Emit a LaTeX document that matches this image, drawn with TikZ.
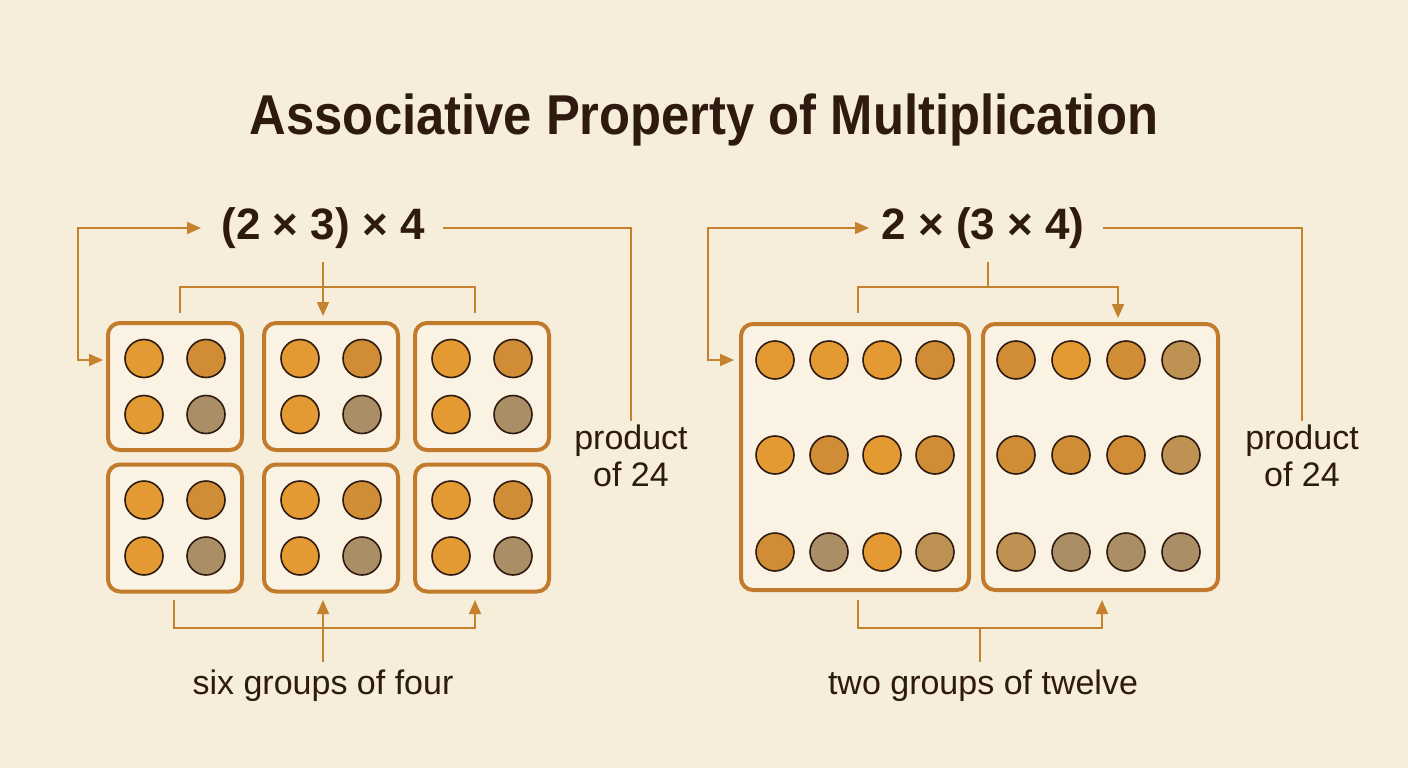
\documentclass[tikz,border=0pt]{standalone}
\usepackage{fontspec}
\setmainfont{Liberation Sans}
\usetikzlibrary{arrows.meta}

\definecolor{paper}{HTML}{F6EEDA}
\definecolor{boxfill}{HTML}{FAF3E3}
\definecolor{rim}{HTML}{C27B2C}
\definecolor{wire}{HTML}{C4822F}
\definecolor{ink}{HTML}{2E1A0E}
\definecolor{dotA}{HTML}{E39A33}
\definecolor{dotB}{HTML}{D08D36}
\definecolor{dotC}{HTML}{BE9252}
\definecolor{dotD}{HTML}{A98E66}

\tikzset{
	group/.style={draw=rim, line width=4pt, rounded corners=12pt, fill=boxfill},
	bead/.style={circle, draw=ink, line width=1.6pt, minimum size=38pt, inner sep=0pt, fill=#1},
	wire/.style={draw=wire, line width=1.8pt},
	tip/.style={wire, -{Triangle[length=14pt,width=12pt]}},
	tips/.style={wire, {Triangle[length=14pt,width=12pt]}-{Triangle[length=14pt,width=12pt]}},
	expr/.style={text=ink, font=\fontsize{44}{48}\selectfont\bfseries},
	caption/.style={text=ink, align=center, font=\fontsize{34}{37}\selectfont},
}

\begin{document}
\begin{tikzpicture}[x=1pt, y=-1pt]
	\fill[paper] (0,0) rectangle (1408,768);
	\useasboundingbox (0,0) rectangle (1408,768);

	\node[text=ink] (title) at (704,120) {\fontsize{54}{60}\selectfont\bfseries\scalebox{0.94}[1.04]{Associative Property of Multiplication}};

	% left: (2 x 3) x 4
	\node[expr] (exL) at (323,228) {(2 × 3) × 4};
	\foreach \c/\x in {1/175, 2/331, 3/482}
	\foreach \r/\y in {1/386.5, 2/528} {
		\node[group, minimum width=134pt, minimum height=127pt] (g\r\c) at (\x,\y) {};
		\node[bead=dotA] at (\x-31,\y-28) {};
		\node[bead=dotB] at (\x+31,\y-28) {};
		\node[bead=dotA] at (\x-31,\y+28) {};
		\node[bead=dotD] at (\x+31,\y+28) {};
	}
	\node[caption] (prodL) at (631,456) {product\\of 24};
	\node[caption] (sixL) at (323,686) {six groups of four};

	\coordinate (inL) at (201,228);
	\coordinate (turnL) at (78,360);
	\coordinate (outL) at (103,360);
	\draw[tips] (inL) -| (turnL) -- (outL);
	\draw[wire] (443,228) -| (prodL.north);
	\coordinate (downL) at (323,316);
	\draw[tip] (323,262) -- (downL);
	\coordinate (topL1) at (180,313);
	\coordinate (topL2) at (475,313);
	\draw[wire] (topL1) |- (475,287) -- (topL2);
	\coordinate (botL1) at (174,600);
	\coordinate (botL2) at (475,600);
	\draw[tip] (botL1) |- (475,628) -- (botL2);
	\coordinate (upL) at (323,662);
	\draw[tip] (upL) -- (323,600);

	% right: 2 x (3 x 4)
	\node[expr] (exR) at (983,228) {2 × (3 × 4)};
	\node[group, minimum width=228pt, minimum height=266pt] (gA) at (855,457) {};
	\node[group, minimum width=235pt, minimum height=266pt] (gB) at (1100.5,457) {};
	\foreach \x/\y/\col in {
		775/360/dotA, 829/360/dotA, 882/360/dotA, 935/360/dotB,
		775/455/dotA, 829/455/dotB, 882/455/dotA, 935/455/dotB,
		775/552/dotB, 829/552/dotD, 882/552/dotA, 935/552/dotC,
		1016/360/dotB, 1071/360/dotA, 1126/360/dotB, 1181/360/dotC,
		1016/455/dotB, 1071/455/dotB, 1126/455/dotB, 1181/455/dotC,
		1016/552/dotC, 1071/552/dotD, 1126/552/dotD, 1181/552/dotD}
		\node[bead=\col] at (\x,\y) {};
	\node[caption] (prodR) at (1302,456) {product\\of 24};
	\node[caption] (twoR) at (983,686) {two groups of twelve};

	\coordinate (inR) at (869,228);
	\coordinate (turnR) at (708,360);
	\coordinate (outR) at (734,360);
	\draw[tips] (inR) -| (turnR) -- (outR);
	\draw[wire] (1103,228) -| (prodR.north);
	\coordinate (topR1) at (858,313);
	\coordinate (topR2) at (1118,318);
	\draw[wire] (988,262) -- (988,287);
	\draw[tip] (topR1) |- (1118,287) -- (topR2);
	\coordinate (botR1) at (858,600);
	\coordinate (botR2) at (1102,600);
	\draw[tip] (botR1) |- (1102,628) -- (botR2);
	\coordinate (upR) at (980,662);
	\draw[wire] (upR) -- (980,628);
\end{tikzpicture}
\end{document}
